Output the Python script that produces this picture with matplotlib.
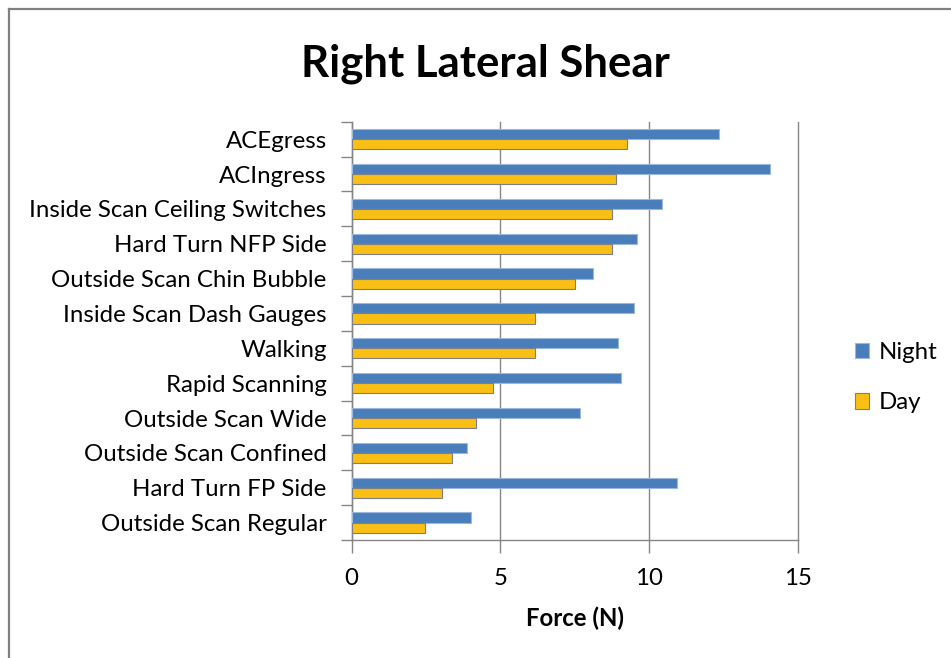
import numpy as np
import matplotlib
matplotlib.use("Agg")
import matplotlib.pyplot as plt
from matplotlib.lines import Line2D

plt.rcParams['font.family'] = ['Lato', 'DejaVu Sans']

# data
tasks = ['ACEgress', 'ACIngress', 'Inside Scan Ceiling Switches', 'Hard Turn NFP Side',
         'Outside Scan Chin Bubble', 'Inside Scan Dash Gauges', 'Walking', 'Rapid Scanning',
         'Outside Scan Wide', 'Outside Scan Confined', 'Hard Turn FP Side', 'Outside Scan Regular']
night = [12.35, 14.08, 10.45, 9.59, 8.13, 9.51, 8.94, 9.07, 7.69, 3.89, 10.93, 4.02]
day = [9.27, 8.88, 8.76, 8.76, 7.51, 6.17, 6.17, 4.74, 4.18, 3.36, 3.05, 2.47]
xticks = [0, 5, 10, 15]

fig = plt.figure(figsize=(9.51, 6.58), dpi=100)
ax = fig.add_axes([0.3698, 0.1793, 0.8388 - 0.3698, 0.815 - 0.1793])

y = np.arange(len(tasks))
h = 0.29
ax.barh(y - h / 2, night, height=h, color='#4A7EBB', edgecolor='#9BB7DC', linewidth=0.8,
        label='Night', zorder=3)
ax.barh(y + h / 2, day, height=h, color='#FABF14', edgecolor='#7F7F7F', linewidth=0.8,
        label='Day', zorder=3)

ax.set_xlim(0, 15)
ax.set_ylim(len(tasks) - 0.5, -0.5)
ax.set_xticks(xticks)
ax.set_xticklabels([str(t) for t in xticks])
ax.set_yticks(np.arange(len(tasks) + 1) - 0.5, minor=False)
ax.set_yticklabels([])
ax.set_yticks(y, minor=True)
ax.set_yticklabels(tasks, minor=True)
ax.tick_params(axis='y', which='major', length=8, color='#868686', width=1)
ax.tick_params(axis='y', which='minor', length=0, pad=18, labelsize=17.3)
ax.tick_params(axis='x', length=9, color='#868686', width=1, pad=11, labelsize=17.3)

ax.grid(axis='x', color='#868686', linewidth=1, zorder=0)
for gl in ax.get_xgridlines():
    gl.set_clip_on(False)
for s in ['top', 'right']:
    ax.spines[s].set_visible(False)
for s in ['left', 'bottom']:
    ax.spines[s].set_color('#868686')
    ax.spines[s].set_linewidth(1)

ax.set_xlabel('Force (N)', fontsize=17.3, fontweight='bold', labelpad=13)
fig.text(0.51, 1 - 77 / 658, 'Right Lateral Shear', ha='center', va='baseline',
         fontsize=31.5, fontweight='bold')

ax.legend(loc='center left', bbox_to_anchor=(0.886, 0.426), bbox_transform=fig.transFigure,
          frameon=False, fontsize=17.3, handlelength=0.62, handleheight=0.62,
          handletextpad=0.4, labelspacing=1.22, borderpad=0)

# chart border (top and left edges visible)
fig.add_artist(Line2D([9 / 951, 1], [1 - 9 / 658, 1 - 9 / 658], transform=fig.transFigure,
                      color='#808080', linewidth=1.6))
fig.add_artist(Line2D([9 / 951, 9 / 951], [0, 1 - 9 / 658], transform=fig.transFigure,
                      color='#808080', linewidth=1.6))

fig.savefig('out.png', dpi=100)
